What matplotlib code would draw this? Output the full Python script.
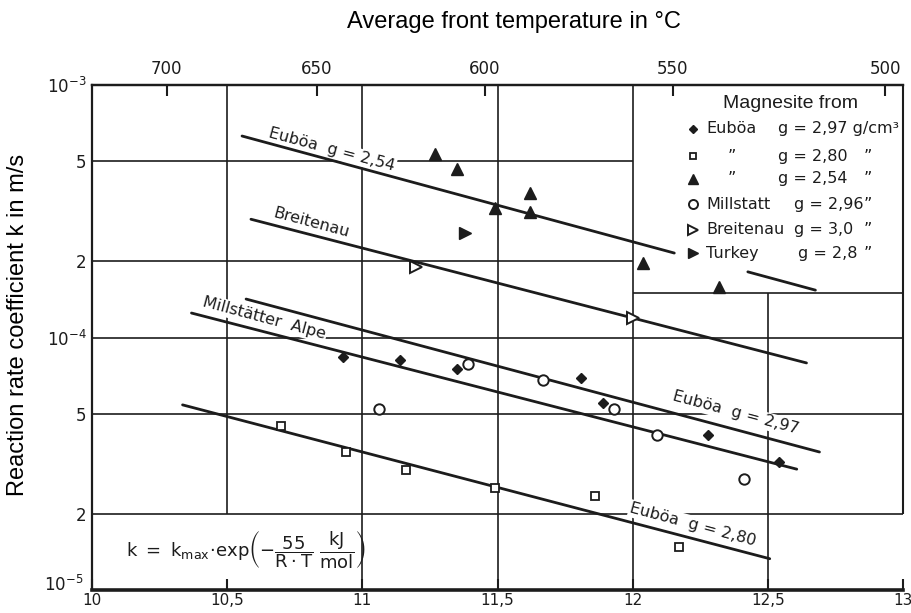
import numpy as np
import matplotlib
matplotlib.use('Agg')
import matplotlib.pyplot as plt
import matplotlib.transforms as mtransforms

plt.rcParams['font.family'] = ['DejaVu Sans']
plt.rcParams['mathtext.default'] = 'regular'

ink = '#1c1c1c'

# data, x = 10^4/T (1/K), k in m/s
# Euboea rho=2.97 (filled diamonds)
eub297_x = [10.93, 11.14, 11.35, 11.81, 11.89, 12.28, 12.54]
eub297_k = [8.4e-5, 8.15e-5, 7.5e-5, 6.9e-5, 5.5e-5, 4.1e-5, 3.2e-5]
# Euboea rho=2.80 (open squares)
eub280_x = [10.70, 10.94, 11.16, 11.49, 11.86, 12.17]
eub280_k = [4.47e-5, 3.52e-5, 2.99e-5, 2.53e-5, 2.35e-5, 1.48e-5]
# Euboea rho=2.54 (filled triangles)
eub254_x = [11.27, 11.35, 11.49, 11.62, 11.62, 12.04, 12.32]
eub254_k = [5.33e-4, 4.65e-4, 3.26e-4, 3.73e-4, 3.14e-4, 1.97e-4, 1.58e-4]
# Millstatt rho=2.96 (open circles)
mill_x = [11.06, 11.39, 11.67, 11.93, 12.09, 12.41]
mill_k = [5.21e-5, 7.85e-5, 6.79e-5, 5.21e-5, 4.11e-5, 2.75e-5]
# Breitenau rho=3.0 (open right triangles)
breit_x = [11.20, 12.00]
breit_k = [1.90e-4, 1.19e-4]
# Turkey rho=2.8 (filled right triangle)
turk_x = [11.38]
turk_k = [2.59e-4]

# fitted lines (E = 55 kJ/mol), end points
fit254_x = [10.555, 12.154]
fit254_k = [6.28e-4, 2.16e-4]
fit254b_x = [12.426, 12.676]
fit254b_k = [1.82e-4, 1.54e-4]
fitbreit_x = [10.588, 12.643]
fitbreit_k = [2.94e-4, 7.93e-5]
fit297_x = [10.570, 12.691]
fit297_k = [1.42e-4, 3.52e-5]
fitmill_x = [10.368, 12.607]
fitmill_k = [1.25e-4, 3.01e-5]
fit280_x = [10.335, 12.507]
fit280_k = [5.41e-5, 1.33e-5]

xticks = [10, 10.5, 11, 11.5, 12, 12.5, 13]
xticklabels = ['10', '10,5', '11', '11,5', '12', '12,5', '13']
yticks = [1e-5, 2e-5, 5e-5, 1e-4, 2e-4, 5e-4, 1e-3]
yticklabels = ['$10^{-5}$', '2', '5', '$10^{-4}$', '2', '5', '$10^{-3}$']
temp_ticks = [700, 650, 600, 550, 500]

legend_names = ['Euböa', '\u201d', '\u201d', 'Millstatt', 'Breitenau', 'Turkey']
legend_rho = ['g = 2,97 g/cm\u00b3', 'g = 2,80', 'g = 2,54', 'g = 2,96', 'g = 3,0', 'g = 2,8']


fig = plt.figure(figsize=(9.12, 6.13), dpi=100)
ax = fig.add_axes([92/912, 23/613, 811/912, 505/613])
ax.set_yscale('log')
ax.set_xlim(10, 13)
ax.set_ylim(1e-5, 1e-3)

# hand drawn style grid, pieces only where the original has them
gl = dict(color=ink, lw=1.2, zorder=1)
ax.hlines([5e-4, 2e-4], 10, 12, **gl)
ax.hlines([1e-4, 5e-5, 2e-5], 10, 13, **gl)
ax.hlines(1.5e-4, 12, 13, **gl)          # bottom of legend box
ax.vlines([11, 11.5, 12], 1e-5, 1e-3, **gl)
ax.vlines(10.5, 2e-5, 1e-3, **gl)
ax.vlines(12.5, 1e-5, 1.5e-4, **gl)
ax.vlines(13, 2e-5, 1e-3, color=ink, lw=1.5, clip_on=False, zorder=1)

# fit lines
fl = dict(color=ink, lw=2.0, zorder=4, solid_capstyle='round')
for fx, fk in [(fit254_x, fit254_k), (fit254b_x, fit254b_k), (fitbreit_x, fitbreit_k),
               (fit297_x, fit297_k), (fitmill_x, fitmill_k), (fit280_x, fit280_k)]:
    ax.plot(fx, fk, **fl)

# measured points
styles = [
    (eub297_x, eub297_k, dict(marker='D', ms=5.5, mfc=ink, mec=ink)),
    (eub280_x, eub280_k, dict(marker='s', ms=5.5, mfc='white', mec=ink, mew=1.3)),
    (eub254_x, eub254_k, dict(marker='^', ms=8, mfc=ink, mec=ink)),
    (mill_x, mill_k, dict(marker='o', ms=7.5, mfc='white', mec=ink, mew=1.4)),
    (breit_x, breit_k, dict(marker='>', ms=8, mfc='white', mec=ink, mew=1.4)),
    (turk_x, turk_k, dict(marker='>', ms=8, mfc=ink, mec=ink)),
]
for sx, sk, st in styles:
    ax.plot(sx, sk, ls='none', zorder=5, **st)

# labels along the lines
lab = dict(fontsize=11.5, rotation=-15, rotation_mode='anchor', ha='center', va='center',
           color=ink, zorder=3, bbox=dict(fc='white', ec='none', pad=1.0))
ax.text(10.886, 5.53e-4, 'Euböa  g = 2,54', **lab)
ax.text(10.812, 2.84e-4, 'Breitenau', **lab)
ax.text(10.636, 1.19e-4, 'Millstätter  Alpe', **lab)
ax.text(12.382, 5.02e-5, 'Euböa  g = 2,97', **lab)
ax.text(12.224, 1.81e-5, 'Euböa  g = 2,80', **lab)

ax.text(0.19, 0.079,
        r'$k\ =\ k_{max}\!\cdot\! exp\left(-\dfrac{55}{R\cdot T}\ \dfrac{kJ}{mol}\right)$',
        transform=ax.transAxes, ha='center', va='center', fontsize=13, color=ink)

# legend block in the upper right
ax.text(0.8615, 0.964, 'Magnesite from', transform=ax.transAxes, ha='center', va='center',
        family='Liberation Sans', fontsize=14, color=ink)
row_y = [0.913, 0.859, 0.814, 0.764, 0.713, 0.667]
name_x = [0.757, 0.784, 0.784, 0.757, 0.757, 0.757]
rho_x = [0.8456, 0.8456, 0.8456, 0.865, 0.865, 0.871]
for i, (sx, sk, st) in enumerate(styles):
    ax.plot([0.7414], [row_y[i]], transform=ax.transAxes, clip_on=False, ls='none', zorder=5,
            **dict(st, ms=st['ms'] - 1))
    ax.text(name_x[i], row_y[i], legend_names[i], transform=ax.transAxes, ha='left',
            va='center', fontsize=11.5, color=ink)
    ax.text(rho_x[i], row_y[i], legend_rho[i], transform=ax.transAxes, ha='left',
            va='center', fontsize=11.5, color=ink)
    if i > 0:
        ax.text(0.951, row_y[i], '\u201d', transform=ax.transAxes, ha='left',
                va='center', fontsize=11.5, color=ink)

# axes, ticks
ax.set_xticks(xticks)
ax.set_xticklabels(xticklabels)
ax.set_yticks(yticks)
ax.set_yticklabels(yticklabels)
ax.minorticks_off()
ax.tick_params(axis='x', direction='in', length=8, width=1.5, pad=2, labelsize=11, colors=ink)
ax.tick_params(axis='y', length=0, pad=4, labelsize=12, colors=ink)
# lift the 10^-5 label a little so it clears the "10" below the corner
lift = mtransforms.ScaledTranslation(-2/72, 5/72, fig.dpi_scale_trans)
ylab0 = ax.get_yticklabels()[0]
ylab0.set_transform(ylab0.get_transform() + lift)
ax.spines['right'].set_visible(False)
ax.spines['left'].set_linewidth(1.6)
ax.spines['bottom'].set_linewidth(2.6)
ax.spines['top'].set_linewidth(1.6)
for s in ax.spines.values():
    s.set_color(ink)


def inv_to_temp(x):
    x = np.asarray(x, dtype=float)
    with np.errstate(divide='ignore'):
        return 1e4 / x - 273.15


def temp_to_inv(t):
    t = np.asarray(t, dtype=float)
    with np.errstate(divide='ignore'):
        return 1e4 / (t + 273.15)


top = ax.secondary_xaxis('top', functions=(inv_to_temp, temp_to_inv))
top.set_xticks(temp_ticks)
top.set_xticklabels([str(t) for t in temp_ticks])
top.tick_params(direction='in', length=8, width=1.5, pad=5, labelsize=12, colors=ink)
top.spines['top'].set_linewidth(1.6)

fig.text(514/912, 1 - 22/613, 'Average front temperature in \u00b0C', ha='center', va='center',
         family='Liberation Sans', fontsize=17, color='black')
fig.text(18/912, 1 - 325/613, 'Reaction rate coefficient k in m/s', ha='center', va='center',
         rotation=90, family='Liberation Sans', fontsize=17, color='black')

fig.savefig('out.png', dpi=100, facecolor='white')
